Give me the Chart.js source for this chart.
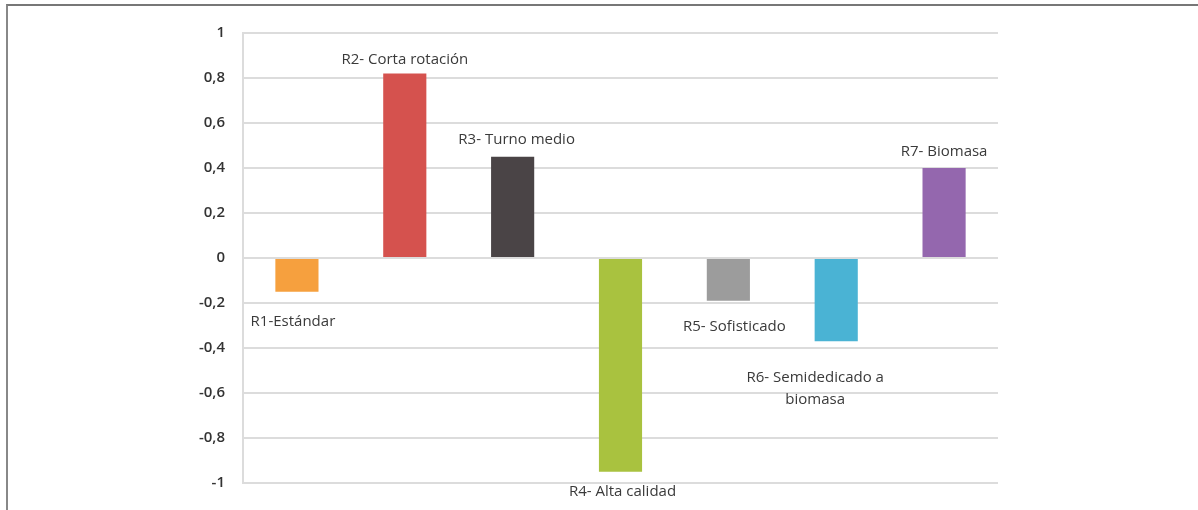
<!DOCTYPE html>
<html>
<head>
<meta charset="utf-8">
<script src="https://cdn.jsdelivr.net/npm/chart.js@4"></script>
<style>
  html, body { margin: 0; padding: 0; background: #fff; }
  #wrap { position: relative; width: 1198px; height: 510px; }
  #frame { position: absolute; left: 6px; top: 4px; right: 0; bottom: -4px;
           border-top: 2px solid #777; border-left: 2px solid #888; }
  canvas { position: absolute; left: 0; top: 0; }
</style>
</head>
<body>
<div id="wrap">
  <div id="frame"></div>
  <canvas id="chart" width="1198" height="510"></canvas>
</div>
<script>
// categories (the data labels of each bar)
var categories = ['R1-Estándar', 'R2- Corta rotación', 'R3- Turno medio', 'R4- Alta calidad',
                  'R5- Sofisticado', ['R6- Semidedicado a', 'biomasa'], 'R7- Biomasa'];
var values = [-0.15, 0.82, 0.45, -0.95, -0.19, -0.37, 0.40];
var barColors = ['#F6A03E', '#D5524E', '#4A4446', '#A9C23F', '#9C9C9C', '#4AB3D4', '#9467AE'];
var yTicks = [1, 0.8, 0.6, 0.4, 0.2, 0, -0.2, -0.4, -0.6, -0.8, -1];

// label nudges in px, [dx, dy]
var labelNudge = [[-4, 11], [0, 2], [4, -1], [2, 1], [6, 7], [-21, 17], [0, 0]];

window.barLabels = {
    id: 'barLabels',
    afterDatasetsDraw: function (chart) {
        var ctx = chart.ctx;
        var meta = chart.getDatasetMeta(0);
        ctx.save();
        ctx.font = '15px "Open Sans", sans-serif';
        ctx.fillStyle = '#3A3A3A';
        ctx.textAlign = 'center';
        ctx.textBaseline = 'middle';
        meta.data.forEach(function (bar, i) {
            var lines = [].concat(categories[i]);
            var up = values[i] >= 0;
            var x = bar.x + labelNudge[i][0];
            var y = up ? bar.y - 16 - (lines.length - 1) * 22 : bar.y + 19;
            y += labelNudge[i][1];
            lines.forEach(function (t, k) {
                ctx.fillText(t, x, y + k * 22);
            });
        });
        ctx.restore();
    }
};

var ctx = document.getElementById('chart').getContext('2d');
new Chart(ctx, {
    type: 'bar',
    data: {
        labels: categories,
        datasets: [{
            data: values,
            backgroundColor: barColors,
            borderWidth: 0,
            barPercentage: 0.4,
            categoryPercentage: 1
        }]
    },
    options: {
        responsive: false,
        animation: false,
        layout: { padding: { left: 0, top: 33, right: 200, bottom: 23 } },
        plugins: { legend: { display: false }, tooltip: { enabled: false } },
        scales: {
            x: { display: false },
            y: {
                min: -1, max: 1,
                afterFit: function (scale) { scale.width = 243; },
                afterBuildTicks: function (scale) {
                    scale.ticks = yTicks.map(function (v) { return { value: v }; });
                },
                grid: { color: '#DCDCDC', lineWidth: 2, drawTicks: false },
                border: { color: '#DCDCDC', width: 2 },
                ticks: {
                    padding: 18,
                    color: '#333',
                    font: { family: '"Open Sans", sans-serif', size: 15, weight: '600' },
                    callback: function (v) { return String(Math.round(v * 10) / 10).replace('.', ','); }
                }
            }
        }
    },
    plugins: [window.barLabels]
});
</script>
</body>
</html>
